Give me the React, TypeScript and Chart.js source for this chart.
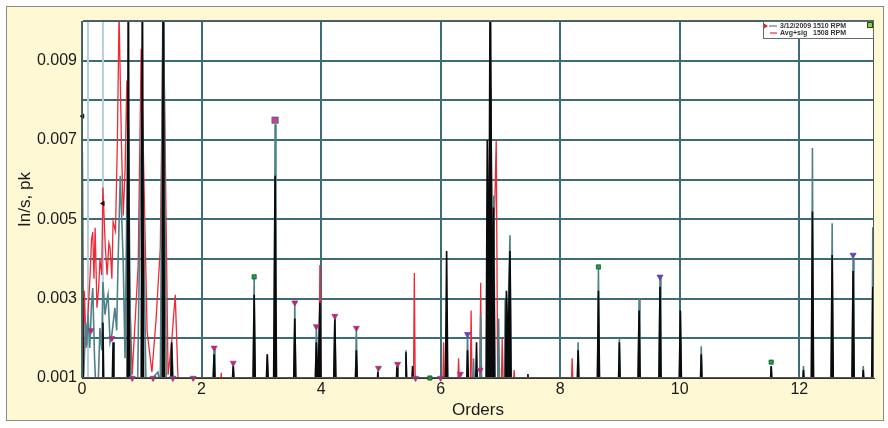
import React, { useEffect, useRef } from 'react';
import { Chart, registerables } from 'chart.js';

Chart.register(...registerables);

// ---- axis / labels ----
const X_MIN = 0;
const X_MAX = 13.25;
const Y_MIN = 0.001;
const Y_MAX = 0.01;
const xStep = 2;
const yStep = 0.001;
const yLabelValues = [0.001, 0.003, 0.005, 0.007, 0.009];
const xTitle = 'Orders';
const yTitle = 'In/s, pk';
const seriesLabels = ['3/12/2009 1510 RPM', 'Avg+sig   1508 RPM'];
const cursorOrders = [0.1, 0.35];

// ---- spectra: [order, in/s pk] ----
const blackSpectrum: [number, number][] = [
  [0, 0.0008], [0.005, 0.0067], [0.02, 0.0008],
  [0.335, 0.0008], [0.35, 0.0024], [0.365, 0.0008],
  [0.505, 0.0008], [0.52, 0.0019], [0.535, 0.0008],
  [0.755, 0.0008], [0.775, 0.012], [0.795, 0.0008],
  [0.99, 0.0008], [1.01, 0.012], [1.03, 0.0008],
  [1.34, 0.0008], [1.36, 0.012], [1.38, 0.0008],
  [1.485, 0.0008], [1.5, 0.0019], [1.515, 0.0008],
  [2.19, 0.0008], [2.21, 0.0016], [2.23, 0.0008],
  [2.51, 0.0008], [2.53, 0.0013], [2.55, 0.0008],
  [2.86, 0.0008], [2.88, 0.0031], [2.9, 0.0008],
  [3.08, 0.0008], [3.1, 0.0016], [3.12, 0.0008],
  [3.205, 0.0008], [3.23, 0.0061], [3.255, 0.0008],
  [3.54, 0.0008], [3.56, 0.0025], [3.58, 0.0008],
  [3.9, 0.0008], [3.92, 0.0019], [3.95, 0.0008], [3.98, 0.0029], [4.0, 0.0008],
  [4.21, 0.0008], [4.23, 0.0025], [4.25, 0.0008],
  [4.57, 0.0008], [4.59, 0.0017], [4.61, 0.0008],
  [4.935, 0.0008], [4.95, 0.00115], [4.965, 0.0008],
  [5.255, 0.0008], [5.27, 0.0013], [5.285, 0.0008],
  [5.405, 0.0008], [5.42, 0.00165], [5.435, 0.0008],
  [5.515, 0.0008], [5.53, 0.0013], [5.545, 0.0008],
  [6.08, 0.0008], [6.1, 0.0042], [6.12, 0.0008],
  [6.435, 0.0008], [6.45, 0.0017], [6.465, 0.0008],
  [6.585, 0.0008], [6.6, 0.0019], [6.615, 0.0008],
  [6.76, 0.0008], [6.78, 0.007], [6.805, 0.0025], [6.83, 0.012], [6.86, 0.0025], [6.885, 0.0053], [6.905, 0.0008],
  [7.08, 0.0008], [7.1, 0.0032], [7.13, 0.0018], [7.16, 0.0042], [7.18, 0.0008],
  [7.445, 0.0008], [7.46, 0.0011], [7.475, 0.0008],
  [8.285, 0.0008], [8.3, 0.0017], [8.315, 0.0008],
  [8.62, 0.0008], [8.64, 0.0032], [8.66, 0.0008],
  [8.975, 0.0008], [8.99, 0.0019], [9.005, 0.0008],
  [9.3, 0.0008], [9.32, 0.0027], [9.34, 0.0008],
  [9.65, 0.0008], [9.67, 0.0033], [9.69, 0.0008],
  [9.99, 0.0008], [10.01, 0.0027], [10.03, 0.0008],
  [10.345, 0.0008], [10.36, 0.0016], [10.375, 0.0008],
  [11.515, 0.0008], [11.53, 0.0013], [11.545, 0.0008],
  [12.055, 0.0008], [12.07, 0.0012], [12.085, 0.0008],
  [12.2, 0.0008], [12.22, 0.0052], [12.24, 0.0008],
  [12.53, 0.0008], [12.55, 0.0041], [12.57, 0.0008],
  [12.88, 0.0008], [12.9, 0.0037], [12.92, 0.0008],
  [13.055, 0.0008], [13.07, 0.0012], [13.085, 0.0008],
  [13.21, 0.0008], [13.23, 0.0033], [13.25, 0.0008],
];

const tealSpectrum: [number, number][] = [
  [0, 0.0008], [0.03, 0.0011], [0.06, 0.0024], [0.08, 0.0018], [0.1, 0.0026], [0.13, 0.00176],
  [0.16, 0.0029], [0.18, 0.00327], [0.21, 0.0015], [0.23, 0.0008], [0.27, 0.0008], [0.3, 0.00226],
  [0.33, 0.0017], [0.35, 0.00342], [0.385, 0.0026], [0.41, 0.0029], [0.435, 0.0031], [0.47, 0.0019],
  [0.5, 0.0021], [0.55, 0.00277], [0.58, 0.0022], [0.6, 0.0037], [0.64, 0.0061], [0.67, 0.0048],
  [0.69, 0.0039], [0.72, 0.0015], [0.77, 0.008], [0.82, 0.0008], [0.93, 0.0008], [1.0, 0.0082],
  [1.07, 0.0008], [1.27, 0.00115], [1.31, 0.0008], [1.36, 0.012], [1.41, 0.0008], [1.48, 0.0008],
  [1.5, 0.0019], [1.53, 0.0008],
  [2.195, 0.0008], [2.21, 0.00176], [2.225, 0.0008],
  [2.515, 0.0008], [2.53, 0.00138], [2.545, 0.0008],
  [2.865, 0.0008], [2.88, 0.00355], [2.895, 0.0008],
  [3.215, 0.0008], [3.23, 0.0074], [3.245, 0.0008],
  [3.545, 0.0008], [3.56, 0.0029], [3.575, 0.0008],
  [3.905, 0.0008], [3.92, 0.0023], [3.95, 0.0008], [3.98, 0.0028], [3.995, 0.0008],
  [4.215, 0.0008], [4.23, 0.00256], [4.245, 0.0008],
  [4.575, 0.0008], [4.59, 0.00226], [4.605, 0.0008],
  [4.94, 0.0008], [4.95, 0.0012], [4.96, 0.0008],
  [5.41, 0.0008], [5.42, 0.0017], [5.43, 0.0008],
  [6.085, 0.0008], [6.1, 0.0027], [6.115, 0.0008],
  [6.435, 0.0008], [6.45, 0.0021], [6.465, 0.0008],
  [6.535, 0.0008], [6.55, 0.0015], [6.565, 0.0008],
  [6.655, 0.0008], [6.67, 0.0026], [6.685, 0.0008],
  [6.765, 0.0008], [6.79, 0.0058], [6.81, 0.003], [6.84, 0.0083], [6.865, 0.003], [6.89, 0.0056], [6.91, 0.0008],
  [6.955, 0.0008], [6.97, 0.0025], [6.985, 0.0008],
  [7.065, 0.0008], [7.08, 0.003], [7.11, 0.0015], [7.16, 0.0046], [7.18, 0.0008],
  [8.285, 0.0008], [8.3, 0.0019], [8.315, 0.0008],
  [8.625, 0.0008], [8.64, 0.0038], [8.655, 0.0008],
  [8.975, 0.0008], [8.99, 0.002], [9.005, 0.0008],
  [9.305, 0.0008], [9.32, 0.003], [9.335, 0.0008],
  [9.655, 0.0008], [9.67, 0.00355], [9.685, 0.0008],
  [9.995, 0.0008], [10.01, 0.0027], [10.025, 0.0008],
  [10.345, 0.0008], [10.36, 0.0018], [10.375, 0.0008],
  [11.515, 0.0008], [11.53, 0.0013], [11.545, 0.0008],
  [12.055, 0.0008], [12.07, 0.0013], [12.085, 0.0008],
  [12.205, 0.0008], [12.22, 0.0068], [12.235, 0.0008],
  [12.535, 0.0008], [12.55, 0.0049], [12.565, 0.0008],
  [12.885, 0.0008], [12.9, 0.004], [12.915, 0.0008],
  [13.055, 0.0008], [13.07, 0.0013], [13.085, 0.0008],
  [13.215, 0.0008], [13.23, 0.0048], [13.245, 0.0008],
];

const redSpectrum: [number, number][] = [
  [0, 0.0008], [0.02, 0.001], [0.04, 0.0032], [0.07, 0.00176], [0.1, 0.0026], [0.13, 0.00342],
  [0.16, 0.0045], [0.18, 0.00468], [0.2, 0.0035], [0.22, 0.00479], [0.25, 0.00277], [0.28, 0.0033],
  [0.3, 0.004], [0.33, 0.0036], [0.35, 0.0058], [0.39, 0.0043], [0.42, 0.0036], [0.45, 0.0044],
  [0.47, 0.00428], [0.5, 0.0035], [0.52, 0.00494], [0.56, 0.0047], [0.59, 0.0068], [0.62, 0.0102],
  [0.66, 0.0069], [0.69, 0.0051], [0.72, 0.0062], [0.75, 0.0085], [0.8, 0.003], [0.84, 0.00108],
  [0.94, 0.00385], [0.99, 0.0093], [1.09, 0.00216], [1.17, 0.00115], [1.24, 0.0025], [1.31, 0.00428],
  [1.36, 0.0105], [1.44, 0.00108], [1.5, 0.0019], [1.56, 0.0031], [1.61, 0.0008],
  [2.315, 0.0008], [2.33, 0.00113], [2.345, 0.0008],
  [3.085, 0.0008], [3.1, 0.0016], [3.115, 0.0008],
  [3.96, 0.0008], [3.98, 0.00385], [4.0, 0.0008],
  [5.545, 0.0008], [5.56, 0.00365], [5.575, 0.0008],
  [6.035, 0.0008], [6.05, 0.0019], [6.065, 0.0008],
  [6.285, 0.0008], [6.3, 0.0015], [6.315, 0.0008],
  [6.495, 0.0008], [6.51, 0.0027], [6.525, 0.0008],
  [6.655, 0.0008], [6.67, 0.0034], [6.685, 0.0008],
  [6.79, 0.0008], [6.83, 0.0093], [6.87, 0.003], [6.93, 0.007], [6.955, 0.0008],
  [7.015, 0.0008], [7.03, 0.002], [7.045, 0.0008],
  [7.215, 0.0008], [7.23, 0.0012], [7.245, 0.0008],
  [8.185, 0.0008], [8.2, 0.0015], [8.215, 0.0008],
];

// peak markers: [order, value, kind]  r=red/blue, g=green, p=purple, k=black, s=boxed
const peakMarkers: [number, number, string][] = [
  [0.01, 0.0076, 'k'], [0.35, 0.0054, 'k'],
  [0.15, 0.0022, 'r'], [0.5, 0.002, 'r'], [0.84, 0.001, 'r'], [1.19, 0.001, 'r'],
  [1.52, 0.001, 'r'], [1.86, 0.001, 'r'], [2.21, 0.00176, 'r'], [2.53, 0.00138, 'r'],
  [2.88, 0.00355, 'g'], [3.23, 0.0075, 's'], [3.56, 0.0029, 'r'], [3.92, 0.0023, 'r'],
  [4.23, 0.00256, 'r'], [4.59, 0.00226, 'r'], [4.96, 0.00125, 'r'], [5.28, 0.00135, 'r'],
  [5.58, 0.001, 'r'], [5.82, 0.001, 'g'], [6.0, 0.001, 'r'], [6.33, 0.0011, 'r'],
  [6.45, 0.0021, 'p'], [6.66, 0.0012, 'r'], [8.64, 0.0038, 'g'], [9.67, 0.00355, 'p'],
  [11.53, 0.0014, 'g'], [12.9, 0.0041, 'p'],
];

const toXY = (arr: [number, number][]) => arr.map(([x, y]) => ({ x, y }));

const markerFill: Record<string, string> = { r: '#ec1c28', g: '#1f9e45', p: '#8a3aa0', k: '#111111', s: '#c04a7a' };
const markerStroke: Record<string, string> = { r: '#5a4ad8', g: '#0c4a1c', p: '#3346c8', k: '#111111', s: '#3a55c8' };
const markerStyle: Record<string, string> = { r: 'triangle', g: 'rect', p: 'triangle', k: 'triangle', s: 'rect' };
const markerSize: Record<string, number> = { r: 3.5, g: 3, p: 3.5, k: 2.5, s: 4.5 };

const FONT = "'Liberation Sans', Arial, Helvetica, sans-serif";

export default function App() {
  const canvasRef = useRef<HTMLCanvasElement | null>(null);

  useEffect(() => {
    const canvas = canvasRef.current;
    if (!canvas) return;

    const framePlugin = {
      id: 'frame',
      beforeDraw(chart: any) {
        const { ctx, chartArea: a } = chart;
        ctx.save();
        ctx.fillStyle = '#ffffff';
        ctx.fillRect(a.left, a.top, a.right - a.left, a.bottom - a.top);
        ctx.restore();
      },
      beforeDatasetsDraw(chart: any) {
        const { ctx, chartArea: a, scales } = chart;
        ctx.save();
        ctx.strokeStyle = '#b4cfe0';
        ctx.lineWidth = 2;
        cursorOrders.forEach((o) => {
          const x = scales.x.getPixelForValue(o);
          ctx.beginPath();
          ctx.moveTo(x, a.top);
          ctx.lineTo(x, a.bottom);
          ctx.stroke();
        });
        ctx.restore();
      },
      afterDraw(chart: any) {
        const { ctx, chartArea: a, data } = chart;
        ctx.save();
        ctx.strokeStyle = '#555';
        ctx.lineWidth = 1;
        ctx.strokeRect(a.left + 0.5, a.top + 0.5, a.right - a.left - 1, a.bottom - a.top - 1);
        // legend box
        const bw = 110;
        const bh = 17;
        const bx = a.right - 1 - bw;
        const by = a.top;
        ctx.fillStyle = '#ffffff';
        ctx.fillRect(bx, by, bw, bh);
        ctx.strokeStyle = '#6a6a6a';
        ctx.strokeRect(bx + 0.5, by + 0.5, bw, bh);
        const teal = data.datasets[2];
        const red = data.datasets[3];
        const y1 = by + 5;
        const y2 = by + 12;
        ctx.fillStyle = '#e8202a';
        ctx.beginPath();
        ctx.moveTo(bx + 1, y1 - 2.5);
        ctx.lineTo(bx + 5, y1);
        ctx.lineTo(bx + 1, y1 + 2.5);
        ctx.closePath();
        ctx.fill();
        ctx.strokeStyle = teal.borderColor;
        ctx.lineWidth = 1.2;
        ctx.beginPath();
        ctx.moveTo(bx + 6, y1);
        ctx.lineTo(bx + 14, y1);
        ctx.stroke();
        ctx.strokeStyle = red.borderColor;
        ctx.beginPath();
        ctx.moveTo(bx + 7, y2);
        ctx.lineTo(bx + 14, y2);
        ctx.stroke();
        ctx.fillStyle = '#333';
        ctx.font = `bold 7px ${FONT}`;
        ctx.textBaseline = 'middle';
        ctx.textAlign = 'left';
        ctx.fillText(teal.label, bx + 17, y1 + 0.5);
        ctx.fillText(red.label, bx + 17, y2 + 0.5);
        ctx.fillStyle = '#8ccf3a';
        ctx.fillRect(bx + bw - 6, by + 1, 6, 6);
        ctx.strokeStyle = '#2a4a10';
        ctx.lineWidth = 1;
        ctx.strokeRect(bx + bw - 5.5, by + 1.5, 5, 5);
        ctx.restore();
      },
    };

    const chart = new Chart(canvas, {
      type: 'line',
      data: {
        datasets: [
          {
            label: 'markers',
            data: peakMarkers.map(([x, y]) => ({ x, y })),
            showLine: false,
            pointStyle: peakMarkers.map((m) => markerStyle[m[2]]) as any,
            pointRotation: peakMarkers.map((m) => (m[2] === 'k' ? 150 : m[2] === 'r' || m[2] === 'p' ? 180 : 0)),
            pointRadius: peakMarkers.map((m) => markerSize[m[2]]),
            pointBackgroundColor: peakMarkers.map((m) => markerFill[m[2]]),
            pointBorderColor: peakMarkers.map((m) => markerStroke[m[2]]),
            pointBorderWidth: 0.7,
            clip: false as any,
          },
          {
            label: 'peaks',
            data: toXY(blackSpectrum),
            borderColor: '#0a0a0a',
            backgroundColor: '#0a0a0a',
            borderWidth: 1.6,
            fill: 'start',
            pointRadius: 0,
            tension: 0,
            clip: 0 as any,
          },
          {
            label: seriesLabels[0],
            data: toXY(tealSpectrum),
            borderColor: '#4f8189',
            borderWidth: 1.6,
            fill: false,
            pointRadius: 0,
            tension: 0,
            clip: 0 as any,
          },
          {
            label: seriesLabels[1],
            data: toXY(redSpectrum),
            borderColor: '#ee2a36',
            borderWidth: 1.3,
            fill: false,
            pointRadius: 0,
            tension: 0,
            clip: 0 as any,
          },
        ],
      },
      options: {
        animation: false,
        responsive: true,
        maintainAspectRatio: false,
        layout: { padding: { left: 15, top: 21, right: 14, bottom: 7 } },
        plugins: {
          legend: { display: false },
          tooltip: { enabled: false },
        },
        scales: {
          x: {
            type: 'linear',
            min: X_MIN,
            max: X_MAX,
            afterFit: (s: any) => { s.height = 43; },
            ticks: {
              stepSize: xStep,
              includeBounds: false,
              padding: 2,
              color: '#1a1a1a',
              font: { family: FONT, size: 16 },
              callback: (v: any) => String(v),
            },
            grid: { color: '#3c6c76', lineWidth: 2, drawTicks: false },
            border: { color: '#333', width: 1 },
            title: { display: true, text: xTitle, color: '#1a1a1a', padding: 0, font: { family: FONT, size: 17 } },
          },
          y: {
            type: 'linear',
            min: Y_MIN,
            max: Y_MAX,
            afterFit: (s: any) => { s.width = 67; },
            ticks: {
              stepSize: yStep,
              padding: 5,
              color: '#1a1a1a',
              font: { family: FONT, size: 16 },
              callback: (v: any) => {
                const hit = yLabelValues.find((l) => Math.abs(l - Number(v)) < 1e-7);
                return hit !== undefined ? hit.toFixed(3) : '';
              },
            },
            grid: { color: '#3c6c76', lineWidth: 2, drawTicks: false },
            border: { color: '#333', width: 1 },
            title: { display: true, text: yTitle, color: '#1a1a1a', padding: 0, font: { family: FONT, size: 17 } },
          },
        },
      },
      plugins: [framePlugin],
    });

    return () => chart.destroy();
  }, []);

  return (
    <div style={{ position: 'fixed', left: 0, top: 0, width: 888, height: 428, background: '#ffffff' }}>
      <div
        style={{
          position: 'absolute',
          left: 6,
          top: 6,
          width: 876,
          height: 413,
          background: '#fef8d4',
          border: '1px solid #8c8c80',
        }}
      />
      <div style={{ position: 'absolute', left: 0, top: 0, width: 888, height: 428 }}>
        <canvas ref={canvasRef} />
      </div>
    </div>
  );
}
